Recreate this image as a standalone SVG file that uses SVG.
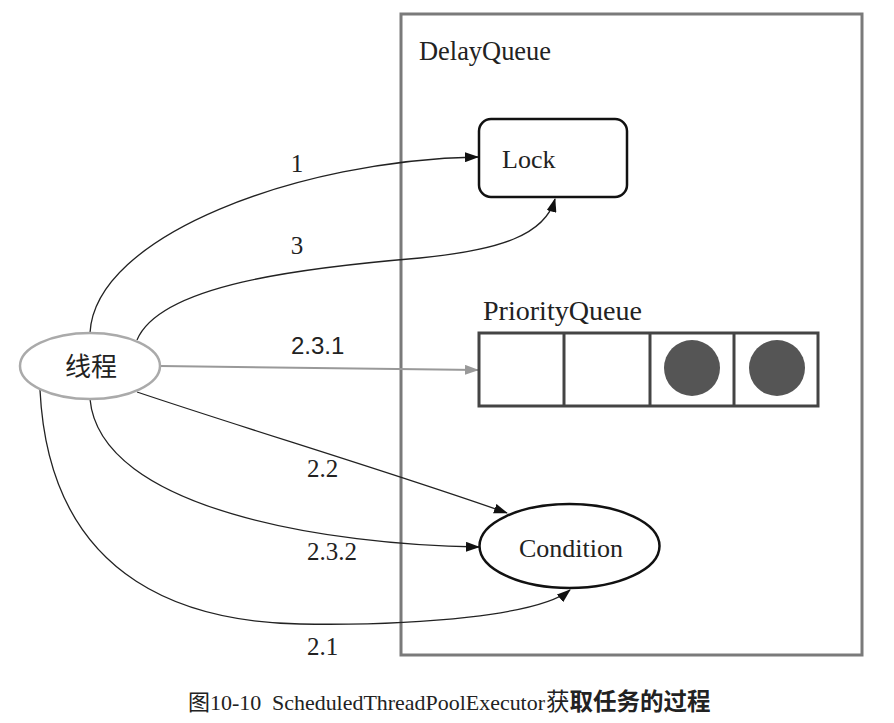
<svg xmlns="http://www.w3.org/2000/svg" width="894" height="723" viewBox="0 0 894 723">
<style>
.serif{font-family:"Liberation Serif","Times New Roman",serif;fill:#222}
.sans{font-family:"Liberation Sans",Arial,sans-serif;fill:#222}
.cjk{font-family:"Noto Sans CJK SC",sans-serif;fill:#222}
.edge{fill:none;stroke:#222;stroke-width:1.3}
</style>
<defs>
<marker id="ah" viewBox="0 0 14 10" refX="13" refY="5" markerWidth="14" markerHeight="10" markerUnits="userSpaceOnUse" orient="auto">
<path d="M0,0 L14,5 L0,10 Z" fill="#111"/>
</marker>
<marker id="ahg" viewBox="0 0 14 10" refX="13" refY="5" markerWidth="14" markerHeight="10" markerUnits="userSpaceOnUse" orient="auto">
<path d="M0,0 L14,5 L0,10 Z" fill="#999"/>
</marker>
</defs>
<rect width="894" height="723" fill="#fff"/>
<g id="delayqueue">
<rect x="401" y="14" width="461" height="641" fill="none" stroke="#7a7a7a" stroke-width="3"/>
<text class="serif" x="419" y="60" font-size="27" textLength="132" lengthAdjust="spacingAndGlyphs">DelayQueue</text>
</g>
<g id="connectors">
<path class="edge" d="M90,333 C95,235 300,160 478,157" marker-end="url(#ah)"/>
<path class="edge" d="M137,340 C160,285 300,268 420,258 C500,250 545,235 555,199" marker-end="url(#ah)"/>
<path d="M160,366 L478,370" fill="none" stroke="#999" stroke-width="2" marker-end="url(#ahg)"/>
<path class="edge" d="M137,392 C250,430 400,475 507,513" marker-end="url(#ah)"/>
<path class="edge" d="M90,399 C100,510 330,545 479,547" marker-end="url(#ah)"/>
<path class="edge" d="M40,390 C50,590 200,622 300,624 C420,626 540,615 570,590" marker-end="url(#ah)"/>
<text class="serif" x="297" y="172" font-size="25" text-anchor="middle">1</text>
<text class="serif" x="297" y="254" font-size="25" text-anchor="middle">3</text>
<text class="sans" x="291" y="354" font-size="24">2.3.1</text>
<text class="serif" x="307" y="477" font-size="25">2.2</text>
<text class="serif" x="307" y="560" font-size="25">2.3.2</text>
<text class="serif" x="307" y="655" font-size="25">2.1</text>
</g>
<g id="thread">
<ellipse cx="90" cy="366" rx="70" ry="33" fill="#fff" stroke="#aaa" stroke-width="2.5"/>
<text class="cjk" x="91" y="376" font-size="26" text-anchor="middle">线程</text>
</g>
<g id="lock">
<rect x="479" y="119" width="148" height="78" rx="12" fill="#fff" stroke="#111" stroke-width="2.5"/>
<text class="serif" x="502" y="168" font-size="26">Lock</text>
</g>
<g id="priorityqueue">
<text class="serif" x="483" y="320" font-size="27" textLength="159" lengthAdjust="spacingAndGlyphs">PriorityQueue</text>
<rect x="479" y="333" width="339" height="73" fill="#fff" stroke="#444" stroke-width="3"/>
<line x1="564" y1="333" x2="564" y2="406" stroke="#444" stroke-width="3"/>
<line x1="650" y1="333" x2="650" y2="406" stroke="#444" stroke-width="3"/>
<line x1="734" y1="333" x2="734" y2="406" stroke="#444" stroke-width="3"/>
<circle cx="692" cy="368" r="28" fill="#555"/>
<circle cx="777" cy="368" r="28" fill="#555"/>
</g>
<g id="condition">
<ellipse cx="569.5" cy="546" rx="90" ry="42" fill="#fff" stroke="#111" stroke-width="2.5"/>
<text class="serif" x="571" y="557" font-size="26" text-anchor="middle">Condition</text>
</g>
<g id="caption">
<text y="710" font-size="22"><tspan class="cjk" x="188">图</tspan><tspan class="serif">10-10</tspan><tspan class="serif" x="272" textLength="273" lengthAdjust="spacingAndGlyphs">ScheduledThreadPoolExecutor</tspan><tspan class="cjk" x="546" font-size="23.5">获</tspan><tspan class="cjk" font-size="23.5" font-weight="bold">取任务的过程</tspan></text>
</g>
</svg>
